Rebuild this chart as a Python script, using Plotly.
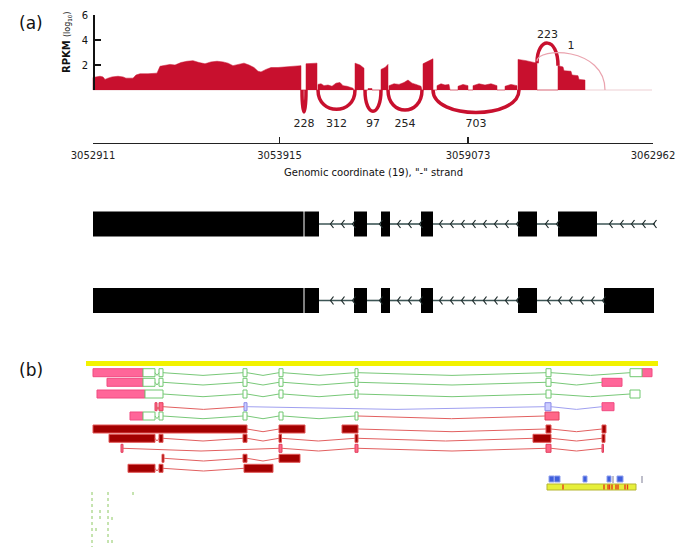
import plotly.graph_objects as go

# ====================== DATA ======================
# Panel (a): sashimi coverage (x in locus display units, y in log10 RPKM)
cov_pos = [0, 0, 3, 7, 10, 12, 15, 19, 25, 30, 33, 40, 43, 47, 55, 62, 64, 67, 72, 77, 82, 88, 94, 100,
           106, 112, 118, 124, 130, 135, 140, 145, 151, 156, 161, 165, 168, 173, 178, 185, 192, 198, 206, 208, 208,
           213, 213, 224, 224,
           225, 225, 228, 231, 235, 239, 243, 247, 250, 254, 258, 260, 261,
           262, 262, 267, 271, 271,
           275, 275, 279, 279,
           288, 288, 292, 295, 295,
           296, 296, 301, 306, 311, 315, 319, 323, 328, 329,
           330, 330, 335, 340, 340,
           344, 344, 348, 352, 356, 357, 365, 365, 370, 375, 375, 380, 380, 386, 392, 398, 404, 404,
           412, 412, 418, 424, 424,
           425, 425, 433, 440, 444, 444,
           465, 465, 470, 471, 478, 479, 485, 486, 492, 492]
cov_val = [0, 1.0, 1.05, 1.1, 1.05, 0.85, 0.95, 1.05, 1.1, 1.05, 0.95, 0.95, 1.2, 1.3, 1.3, 1.35, 1.35, 1.9, 2.0, 2.05, 2.0, 2.2, 2.3, 2.35,
           2.2, 2.1, 2.25, 2.3, 2.25, 2.15, 1.95, 2.05, 2.15, 2.0, 1.8, 1.5, 1.45, 1.65, 1.8, 1.8, 1.85, 1.9, 1.95, 1.95, 0,
           0, 2.1, 2.15, 0,
           0, 0.45, 0.5, 0.35, 0.4, 0.3, 0.55, 0.6, 0.35, 0.3, 0.2, 0.15, 0,
           0, 2.15, 2.0, 1.75, 0,
           0, 0.12, 0.12, 0,
           0, 1.65, 1.8, 2.05, 0,
           0, 0.35, 0.5, 0.45, 0.6, 0.8, 0.55, 0.45, 0.3, 0,
           0, 2.1, 2.3, 2.5, 0,
           0, 0.35, 0.5, 0.4, 0.45, 0, 0, 0.3, 0.45, 0.35, 0, 0, 0.35, 0.5, 0.4, 0.5, 0.35, 0,
           0, 0.3, 0.45, 0.35, 0,
           0, 2.45, 2.35, 2.2, 2.15, 0,
           0, 1.95, 1.85, 1.55, 1.5, 1.2, 1.15, 0.85, 0.8, 0]
cov_extent = [0, 559]

# splice junctions
junc_start = [209, 225, 272, 295, 340, 444, 444]
junc_end = [213, 262, 288, 329, 426, 465, 512]
junc_count = [228, 312, 97, 254, 703, 223, 1]
junc_apex = [-1.75, -1.55, -1.7, -1.6, -1.8, 3.75, 2.88]
junc_left_h = [0, 0, 0, 0, 0, 2.15, 2.3]
junc_right_h = [0, 0, 0, 0, 0, 1.95, 0]

rpkm_ticks = [2, 4, 6]
genome_tick_pos = [0, 186.5, 375, 560]
genome_tick_labels = ["3052911", "3053915", "3059073", "3062962"]

# isoform models (panel a)
iso1_exons = [(0, 210.5), (211.5, 226), (261, 274), (288, 297), (328, 340), (425, 444), (465, 504)]
iso2_exons = [(0, 210.5), (211.5, 226), (261, 274), (288, 297), (328, 340), (425, 444), (511, 561)]
iso_line_end = [562, 561]

# Panel (b): transcript rows (start, end, kind)
tx1 = [(0, 50, "utr"), (50, 62, "nc"), (66, 70, "nc"), (150, 154, "nc"), (186, 190, "nc"), (262, 265, "nc"),
       (453, 458, "nc"), (537, 549, "nc"), (549, 559, "utr")]
tx2 = [(14, 50, "utr"), (50, 62, "nc"), (66, 70, "nc"), (150, 154, "nc"), (186, 190, "nc"), (262, 265, "nc"),
       (453, 458, "nc"), (509, 529, "utr")]
tx3 = [(4, 52, "utr"), (52, 70, "nc"), (150, 154, "nc"), (186, 190, "nc"), (262, 265, "nc"), (453, 458, "nc"),
       (537, 547, "nc")]
tx4 = [(62, 64, "pk"), (66, 70, "pk"), (151, 154, "blue"), (452, 458, "blue"), (509, 521, "utr")]
tx5 = [(37, 50, "utr"), (50, 62, "nc"), (66, 70, "nc"), (150, 154, "nc"), (186, 190, "nc"), (262, 265, "nc"),
       (452, 466, "pk")]
tx6 = [(0, 154, "cds"), (186, 212, "cds"), (249, 265, "cds"), (453, 458, "cds"), (509, 513, "cds")]
tx7 = [(16, 62, "cds"), (66, 70, "cds"), (150, 154, "cds"), (186, 188.5, "cds"), (262, 265, "cds"),
       (440, 458, "cds"), (509, 512, "cds")]
tx8 = [(28, 30, "pk"), (186, 189, "pk"), (262, 265, "pk"), (453, 458, "pk"), (509, 510.5, "pk")]
tx9 = [(69, 71, "cds"), (150, 154, "cds"), (186, 207, "cds")]
tx10 = [(35, 62, "cds"), (66, 70, "cds"), (151, 180, "cds")]

# introns (start, end, colour kind)
in1 = [(62, 66, "g"), (70, 150, "g"), (154, 186, "g"), (190, 262, "g"), (265, 453, "g"), (458, 537, "g")]
in2 = [(62, 66, "g"), (70, 150, "g"), (154, 186, "g"), (190, 262, "g"), (265, 453, "g"), (458, 509, "g")]
in3 = [(70, 150, "g"), (154, 186, "g"), (190, 262, "g"), (265, 453, "g"), (458, 537, "g")]
in4 = [(64, 66, "r"), (70, 151, "r"), (154, 452, "b"), (458, 509, "b")]
in5 = [(62, 66, "g"), (70, 150, "g"), (154, 186, "g"), (190, 262, "g"), (265, 452, "r")]
in6 = [(154, 186, "r"), (265, 453, "r"), (458, 509, "r")]
in7 = [(62, 66, "r"), (70, 150, "r"), (154, 186, "r"), (188.5, 262, "r"), (265, 440, "r"), (458, 509, "r")]
in8 = [(30, 186, "r"), (189, 262, "r"), (265, 453, "r"), (458, 509, "r")]
in9 = [(71, 150, "r"), (154, 186, "r")]
in10 = [(62, 66, "r"), (70, 151, "r")]

top_bar = (-7, 565)
feat_blue = [(456, 461), (461.5, 467), (490, 494), (514, 518), (524, 530)]
feat_grey = [520, 549]
feat_bar = (454, 543)
feat_red = [470, 511, 515, 516.5, 519, 523, 525, 532, 534.5]

dash_x = [-1, 3, 7, 15, 19, 19, 40]
dash_top = [492, 528, 510, 492, 517, 540, 492]
dash_bottom = [547, 533, 520, 545, 521, 545, 496]

# ====================== LAYOUT / STYLE ======================
W, H = 685, 555
X_LEFT = 93           # screen offset of locus origin
FONT = "DejaVu Sans"
RED = "#c8102e"
ISO_Y = [224, 300.5]
ISO_H = 25
ROW_Y = [372.7, 382.3, 394, 406.7, 416, 429, 438.3, 448.3, 458.3, 468.3]
BOX_H = 8
VDEPTH = 2.7
KIND_FILL = {"utr": "#ff6699", "nc": "#ffffff", "cds": "#a30000", "pk": "#ff6688", "blue": "#ccccff"}
KIND_LINE = {"utr": "#f04a80", "nc": "#70c870", "cds": "#e25555", "pk": "#e2405e", "blue": "#8a8ae8"}
INTRON_COL = {"g": "#78c878", "r": "#e26060", "b": "#a0a0f0"}

Y2_TOP_PX, Y2_BOT_PX = 10, 132
PX_PER_UNIT = 12.5
y2_range = [-(Y2_BOT_PX - 90) / PX_PER_UNIT, (90 - Y2_TOP_PX) / PX_PER_UNIT]

fig = go.Figure()

fig.add_trace(go.Scatter(x=cov_extent, y=[0, 0], xaxis="x", yaxis="y2", mode="lines",
                         line=dict(color="#f3dfe2", width=1.5), hoverinfo="skip"))
fig.add_trace(go.Scatter(x=cov_pos, y=cov_val, xaxis="x", yaxis="y2", mode="lines", fill="tozeroy",
                         fillcolor=RED, line=dict(color=RED, width=0.5), hoverinfo="skip"))

shapes = []
lab_x, lab_y, lab_t = [], [], []
for s, e, n, a, lh, rh in zip(junc_start, junc_end, junc_count, junc_apex, junc_left_h, junc_right_h):
    c = (a - 0.125 * (lh + rh)) / 0.75
    thin = n < 10
    shapes.append(dict(type="path", xref="x", yref="y2",
                       path=f"M {s},{lh} C {s},{c} {e},{c} {e},{rh}",
                       line=dict(color="#eaa3ae" if thin else RED, width=1.2 if thin else 3.5),
                       layer="above"))
    lab_x.append((s + e) / 2)
    lab_y.append(-2.72 if a < 0 else a + 0.6)
    lab_t.append(str(n))
fig.add_trace(go.Scatter(x=lab_x, y=lab_y, text=lab_t, mode="text", xaxis="x", yaxis="y2",
                         textfont=dict(family=FONT, size=11, color="#222"), hoverinfo="skip"))

fig.add_trace(go.Scatter(x=[None], y=[None], xaxis="x2", yaxis="y3", hoverinfo="skip"))

for ti, (exons, lend) in enumerate(zip([iso1_exons, iso2_exons], iso_line_end)):
    yc = ISO_Y[ti]
    lx, ly, cx, cy = [], [], [], []
    bounds = [e for _, e in exons]
    starts = [s for s, _ in exons][1:] + [lend]
    for a, b in zip(bounds, starts):
        if b - a < 2:
            continue
        lx += [a, b, None]
        ly += [yc, yc, None]
        p = b - 1.5
        while p >= a + 4:
            cx += [p + 3, p, p + 3, None]
            cy += [yc - 4, yc, yc + 4, None]
            p -= 11
    fig.add_trace(go.Scatter(x=lx, y=ly, mode="lines", line=dict(color="#3d5555", width=1.6),
                             hoverinfo="skip"))
    fig.add_trace(go.Scatter(x=cx, y=cy, mode="lines", line=dict(color="#1d2b2b", width=1.2),
                             hoverinfo="skip"))
    fig.add_trace(go.Bar(orientation="h", base=[s for s, _ in exons], x=[e - s for s, e in exons],
                         y=[yc] * len(exons), width=ISO_H, marker=dict(color="black", line=dict(width=0)),
                         hoverinfo="skip"))

fig.add_trace(go.Bar(orientation="h", base=[top_bar[0]], x=[top_bar[1] - top_bar[0]], y=[363.5], width=5,
                     marker=dict(color="#f2f200", line=dict(width=0)), hoverinfo="skip"))

all_tx = [tx1, tx2, tx3, tx4, tx5, tx6, tx7, tx8, tx9, tx10]
all_in = [in1, in2, in3, in4, in5, in6, in7, in8, in9, in10]
for kind_c in INTRON_COL:
    lx, ly = [], []
    for ri, introns in enumerate(all_in):
        yc = ROW_Y[ri]
        for s, e, k in introns:
            if k == kind_c:
                lx += [s, (s + e) / 2, e, None]
                ly += [yc, yc + VDEPTH, yc, None]
    fig.add_trace(go.Scatter(x=lx, y=ly, mode="lines", line=dict(color=INTRON_COL[kind_c], width=1),
                             hoverinfo="skip"))

for kind in KIND_FILL:
    bs, bw, by = [], [], []
    for ri, exons in enumerate(all_tx):
        for s, e, k in exons:
            if k == kind:
                bs.append(s); bw.append(e - s); by.append(ROW_Y[ri])
    fig.add_trace(go.Bar(orientation="h", base=bs, x=bw, y=by, width=BOX_H,
                         marker=dict(color=KIND_FILL[kind], line=dict(color=KIND_LINE[kind], width=1)),
                         hoverinfo="skip"))

fig.add_trace(go.Bar(orientation="h", base=[s for s, _ in feat_blue], x=[e - s for s, e in feat_blue],
                     y=[479] * len(feat_blue), width=6,
                     marker=dict(color="#3f5fdc", line=dict(color="#8fa0ee", width=1)), hoverinfo="skip"))
fig.add_trace(go.Bar(orientation="h", base=[feat_bar[0]], x=[feat_bar[1] - feat_bar[0]], y=[487], width=6,
                     marker=dict(color="#e6ef3a", line=dict(color="#b5b530", width=1)), hoverinfo="skip"))
gx, gy = [], []
for p in feat_grey:
    gx += [p, p, None]; gy += [476, 483, None]
fig.add_trace(go.Scatter(x=gx, y=gy, mode="lines", line=dict(color="#a8a8b8", width=1.5), hoverinfo="skip"))
rx, ry = [], []
for p in feat_red:
    rx += [p, p, None]; ry += [484.5, 489.5, None]
fig.add_trace(go.Scatter(x=rx, y=ry, mode="lines", line=dict(color="#e4401e", width=1.4), hoverinfo="skip"))

dx, dy = [], []
for x, t, b in zip(dash_x, dash_top, dash_bottom):
    dx += [x, x, None]; dy += [t, b, None]
fig.add_trace(go.Scatter(x=dx, y=dy, mode="lines", line=dict(color="#8cc860", width=1, dash="3px,3px"),
                         hoverinfo="skip"))


def ann(text, px, py, size, **kw):
    return dict(text=text, x=px / W, y=(H - py) / H, xref="paper", yref="paper", showarrow=False,
                xanchor="center", yanchor="middle", font=dict(family=FONT, size=size, color="#111"), **kw)


fig.update_layout(
    width=W, height=H, autosize=False, margin=dict(l=0, r=0, t=0, b=0, pad=0, autoexpand=False),
    paper_bgcolor="white", plot_bgcolor="rgba(0,0,0,0)", showlegend=False, barmode="overlay",
    font=dict(family=FONT, size=10, color="#222"), hovermode=False,
    xaxis=dict(domain=[0, 1], range=[-X_LEFT, W - X_LEFT], visible=False, fixedrange=True, automargin=False),
    yaxis=dict(domain=[0, 1], range=[H, 0], visible=False, fixedrange=True, automargin=False),
    yaxis2=dict(domain=[(H - Y2_BOT_PX) / H, (H - Y2_TOP_PX) / H], range=y2_range, anchor="x",
                visible=False, fixedrange=True, automargin=False),
    yaxis3=dict(domain=[(H - 90) / H, (H - 15) / H], range=[0, 6], anchor="free", position=X_LEFT / W,
                automargin=False, tickmode="array", tickvals=rpkm_ticks, ticks="inside", ticklen=6,
                tickwidth=1.5, tickcolor="#111", showline=True, linecolor="#111", linewidth=1.6,
                showgrid=False, zeroline=False, tickfont=dict(family=FONT, size=10, color="#111"),
                ticklabelstandoff=3, fixedrange=True),
    xaxis2=dict(domain=[X_LEFT / W, (X_LEFT + 560) / W], range=[0, 560], anchor="free",
                position=(H - 143) / H, automargin=False, tickmode="array", tickvals=genome_tick_pos,
                ticktext=genome_tick_labels, ticks="inside", ticklen=6, tickwidth=1.2, tickcolor="#222",
                showline=True, linecolor="#222", linewidth=1.4, showgrid=False, zeroline=False,
                tickfont=dict(family=FONT, size=10, color="#222"), ticklabelstandoff=3, fixedrange=True),
    shapes=shapes,
    annotations=[
        ann("(a)", 31, 23, 17),
        ann("(b)", 31, 370, 17),
        ann("<b>RPKM</b> <span style='font-size:8px'>(log<sub>10</sub>)</span>", 67, 42, 10, textangle=-90),
        ann('Genomic coordinate (19), "-" strand', 374, 172, 10),
    ],
)

fig.write_html("out.html", config={"displayModeBar": False, "staticPlot": True},
               post_script="document.body.style.margin='0';document.body.style.padding='0';")
